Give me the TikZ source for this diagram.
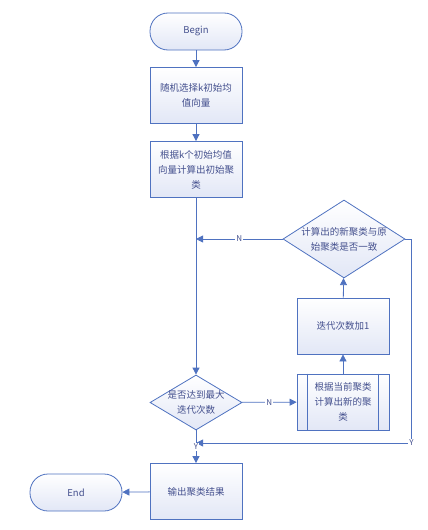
\documentclass[tikz,border=0pt]{standalone}
\usepackage{fontspec}
\setmainfont{Noto Sans CJK SC}
\usetikzlibrary{shapes.geometric,arrows.meta}
\definecolor{lineblue}{HTML}{4F72C0}
\definecolor{fillblue}{HTML}{E2E7F6}
\definecolor{txtblue}{HTML}{44508E}

\begin{document}
\begin{tikzpicture}[x=1pt,y=-1pt,font=\fontsize{9.5}{15}\selectfont,
  base/.style={draw=lineblue,line width=0.8pt,top color=white,bottom color=fillblue,text=txtblue,align=center,inner sep=0pt},
  terminal/.style={base,minimum width=92pt,minimum height=37pt,rounded corners=18pt},
  process/.style={base,minimum width=92pt,minimum height=56pt},
  decision/.style={base,diamond},
  txt/.style={text=txtblue,align=center},
  arrow/.style={draw=lineblue,line width=0.8pt,-{Triangle[width=7pt,length=7pt]}},
  lbl/.style={fill=white,text=txtblue,font=\fontsize{8}{8}\selectfont,inner sep=1pt}]
\useasboundingbox (0,0) rectangle (428,530);

% main column
\node[terminal] (begin) at (196,31.5) {Begin};
\node[process] (init) at (196,95.5) {随机选择k初始均\\值向量};
\node[process] (first) at (196,169.5) {根据k个初始均值\\向量计算出初始聚\\类};
\node[decision,minimum width=92pt,minimum height=55pt] (maxit) at (196,402.5) {};
\node[txt] (maxtxt) at (maxit) {是否达到最大\\迭代次数};
\node[process] (output) at (196,491.5) {输出聚类结果};
\node[terminal] (end) at (76,492.5) {End};

% loop column
\node[process] (update) at (343,402) {根据当前聚类\\计算出新的聚\\类};
\draw[lineblue,line width=0.8pt] ([xshift=11pt]update.north west) -- ([xshift=11pt]update.south west);
\draw[lineblue,line width=0.8pt] ([xshift=-11pt]update.north east) -- ([xshift=-11pt]update.south east);
\node[process] (count) at (343,326) {迭代次数加1};
\node[decision,minimum width=122pt,minimum height=78pt] (check) at (344,239) {};
\node[txt] (checktxt) at (check) {计算出的新聚类与原\\始聚类是否一致};

% back lines
\coordinate (nback) at (first.south |- check.west);
\coordinate (yback) at (196,443);

% connectors
\draw[arrow] (begin) -- (init);
\draw[arrow] (init) -- (first);
\draw[arrow] (first) -- (maxit);
\draw[arrow] (maxit) -- node[lbl]{N} (update);
\draw[arrow] (update) -- (count);
\draw[arrow] (count) -- (check);
\draw[arrow] (check.west) -- node[lbl]{N} (nback);
\draw[arrow] (check.east) -- ++(6,0) |- node[lbl]{Y} (yback);
\draw[arrow] (maxit) -- node[lbl]{Y} (output);
\draw[arrow] (output) -- (end);

\end{tikzpicture}
\end{document}
